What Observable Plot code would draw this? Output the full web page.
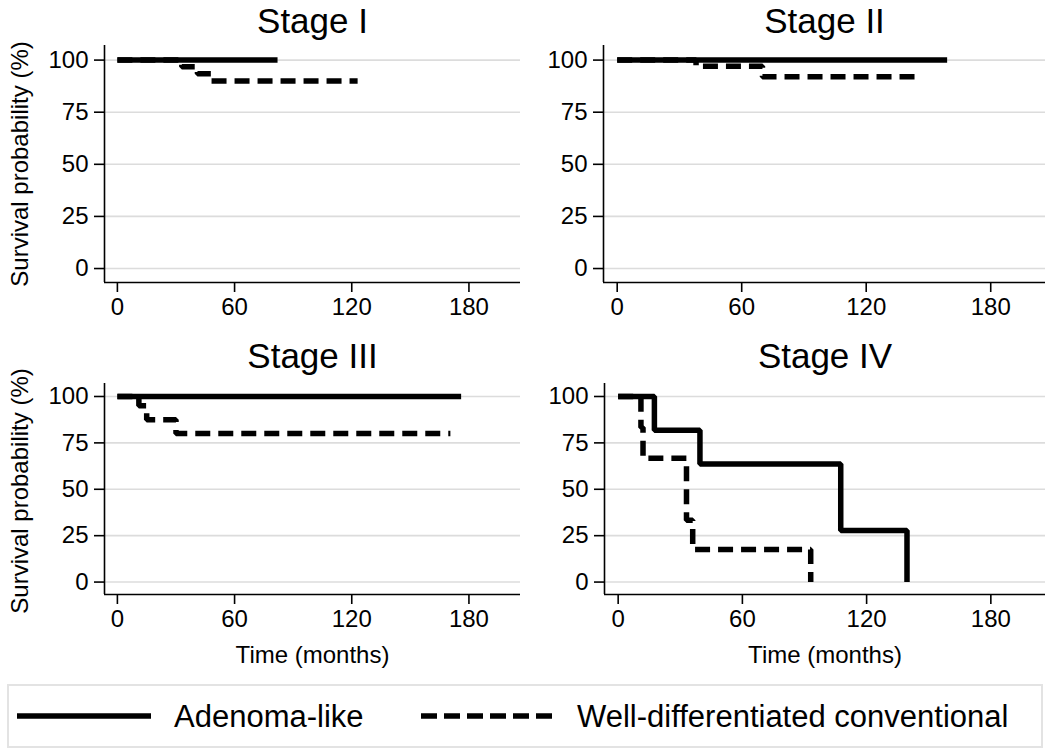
<!DOCTYPE html>
<html>
<head>
<meta charset="utf-8">
<script src="https://cdn.jsdelivr.net/npm/d3@7"></script>
<script src="https://cdn.jsdelivr.net/npm/@observablehq/plot@0.6"></script>
<style>
  html, body { margin: 0; padding: 0; background: #fff; }
  #wrap { position: relative; width: 1050px; height: 751px; overflow: hidden; font-family: "Liberation Sans", Arial, Helvetica, sans-serif; color: #000; }
  .panel { position: absolute; }
  .panel svg { overflow: visible; }
  #legend { position: absolute; left: 7px; top: 684px; width: 1036px; height: 64px; box-sizing: border-box; border: 2px solid #e3e3e3; background: #fff; }
  #legend .lbl { position: absolute; top: 50%; transform: translateY(-50%); font-size: 31px; white-space: nowrap; line-height: 1; }
  #legend svg { position: absolute; top: 50%; transform: translateY(-50%); }
</style>
</head>
<body>
<div id="wrap"></div>
<script>
// ---- data ----
const stages = ["Stage I", "Stage II", "Stage III", "Stage IV"];
const groups = ["Adenoma-like", "Well-differentiated conventional"];
const xTicks = [0, 60, 120, 180];
const yTicks = [0, 25, 50, 75, 100];
const xDomain = [-6.6, 206.4];
const yDomain = [-6.7, 107];
const yLabel = "Survival probability (%)";
const xLabel = "Time (months)";

// Kaplan-Meier step points (time in months, survival %)
const s1AdenomaTime = [0, 82];
const s1AdenomaSurv = [100, 100];
const s1WellTime = [0, 33, 41, 48, 123];
const s1WellSurv = [100, 96.8, 93.5, 90, 90];

const s2AdenomaTime = [0, 159];
const s2AdenomaSurv = [100, 100];
const s2WellTime = [0, 38, 70, 143.5];
const s2WellSurv = [100, 97, 92, 92];

const s3AdenomaTime = [0, 176];
const s3AdenomaSurv = [100, 100];
const s3WellTime = [0, 11, 15, 30, 170.5];
const s3WellSurv = [100, 95, 87.5, 80, 80];

const s4AdenomaTime = [0, 17.5, 39.5, 107.5, 139.5];
const s4AdenomaSurv = [100, 81.8, 63.6, 27.8, 0];
const s4WellTime = [0, 11, 12, 33, 36, 93];
const s4WellSurv = [100, 83.3, 66.7, 33.3, 17.5, 0];

function rows(times, survs) { return times.map((t, i) => ({t, s: survs[i]})); }

const curves = [
  [rows(s1AdenomaTime, s1AdenomaSurv), rows(s1WellTime, s1WellSurv)],
  [rows(s2AdenomaTime, s2AdenomaSurv), rows(s2WellTime, s2WellSurv)],
  [rows(s3AdenomaTime, s3AdenomaSurv), rows(s3WellTime, s3WellSurv)],
  [rows(s4AdenomaTime, s4AdenomaSurv), rows(s4WellTime, s4WellSurv)]
];

// ---- layout ----
const layout = [
  {left: 0,   top: 0,   width: 530, height: 335, ml: 104, mr: 10, mt: 45, mb: 53, yl: true,  xl: false, tdy: -24, ydy: 0},
  {left: 530, top: 0,   width: 520, height: 335, ml: 73,  mr: 5,  mt: 45, mb: 53, yl: false, xl: false, tdy: -24, ydy: 0},
  {left: 0,   top: 335, width: 530, height: 340, ml: 104, mr: 10, mt: 48, mb: 81, yl: true,  xl: true,  tdy: -27, ydy: 2},
  {left: 530, top: 335, width: 520, height: 340, ml: 74,  mr: 5,  mt: 48, mb: 81, yl: false, xl: true,  tdy: -27, ydy: 0}
];

const FONT = '"Liberation Sans", Arial, Helvetica, sans-serif';
const wrap = document.getElementById("wrap");

stages.forEach((stage, i) => {
  const L = layout[i];
  const [adeno, well] = curves[i];
  const marks = [
    Plot.ruleY(yTicks, {stroke: "#dcdcdc", strokeWidth: 1.6}),
    Plot.ruleX([xDomain[0]], {stroke: "#000", strokeWidth: 1.6}),
    Plot.ruleY([yDomain[0]], {stroke: "#000", strokeWidth: 1.6}),
    Plot.axisX({ticks: xTicks, tickSize: 10, tickPadding: 5, label: null, strokeWidth: 1.6, fontSize: 24}),
    Plot.axisY({ticks: yTicks, tickSize: 10, tickPadding: 6, label: null, strokeWidth: 1.6, fontSize: 24}),
    Plot.line(well, {x: "t", y: "s", curve: "step-after", stroke: "#000", strokeWidth: 5.5,
      strokeDasharray: "15,8", strokeLinecap: "butt", strokeLinejoin: "miter"}),
    Plot.line(adeno, {x: "t", y: "s", curve: "step-after", stroke: "#000", strokeWidth: 5.5,
      strokeLinecap: "butt", strokeLinejoin: "miter"}),
    Plot.text([stage], {text: d => d, frameAnchor: "top", lineAnchor: "middle", dy: L.tdy, fontSize: 35, fill: "#000"})
  ];
  if (L.yl) marks.push(Plot.text([yLabel], {text: d => d, frameAnchor: "left", textAnchor: "middle", lineAnchor: "middle",
    dx: -84, dy: L.ydy, rotate: -90, fontSize: 24, fill: "#000"}));
  if (L.xl) marks.push(Plot.text([xLabel], {text: d => d, frameAnchor: "bottom", lineAnchor: "middle", dy: 61, fontSize: 24, fill: "#000"}));

  const chart = Plot.plot({
    width: L.width, height: L.height,
    marginLeft: L.ml, marginRight: L.mr, marginTop: L.mt, marginBottom: L.mb,
    x: {domain: xDomain},
    y: {domain: yDomain},
    style: {fontFamily: FONT, fontSize: "24px", color: "#000", background: "transparent", overflow: "visible"},
    marks
  });
  const div = document.createElement("div");
  div.className = "panel";
  div.style.left = L.left + "px";
  div.style.top = L.top + "px";
  div.appendChild(chart);
  wrap.appendChild(div);
});

// ---- legend ----
const legend = document.createElement("div");
legend.id = "legend";
const sw = (dash) => `<svg width="134" height="8"><line x1="0" y1="4" x2="134" y2="4" stroke="#000" stroke-width="5.5" ${dash ? 'stroke-dasharray="16,7"' : ''}/></svg>`;
legend.innerHTML =
  `<div style="position:absolute;left:8px;top:0;height:100%">${sw(false)}</div>` +
  `<div class="lbl" style="left:165px">${groups[0]}</div>` +
  `<div style="position:absolute;left:412px;top:0;height:100%">${sw(true)}</div>` +
  `<div class="lbl" style="left:568px">${groups[1]}</div>`;
wrap.appendChild(legend);
</script>
</body>
</html>
